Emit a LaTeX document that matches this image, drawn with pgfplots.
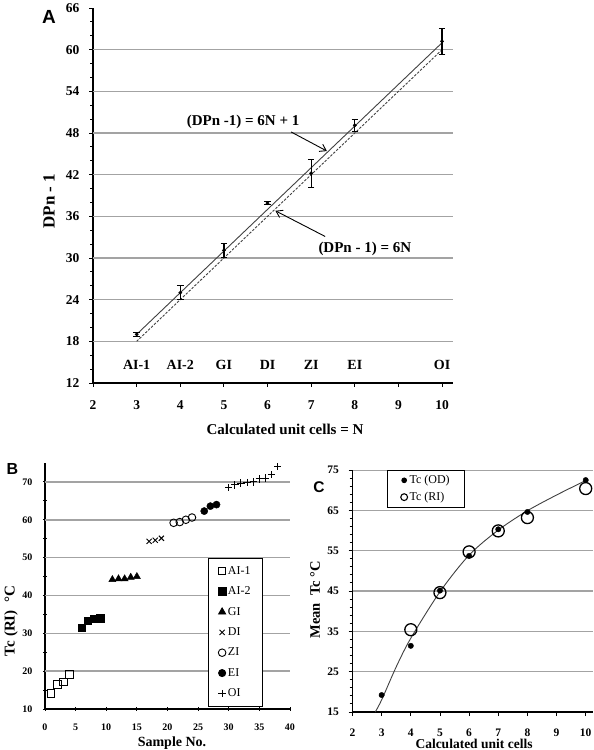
\documentclass[border=0pt]{standalone}
\usepackage{pgfplots}
\pgfplotsset{compat=1.18}
\usepackage{fontspec}
\setmainfont{Liberation Serif}
\newfontfamily\arialfont{Liberation Sans}
\usetikzlibrary{arrows.meta}
\newcommand{\fs}[1]{\fontsize{#1}{#1}\selectfont}
\colorlet{gridc}{black!36}
\begin{document}
\begin{tikzpicture}[x=1pt,y=1pt]
\useasboundingbox (0,0) rectangle (594,750);
\pgfplotsset{
  myax/.style={
    scale only axis,
    anchor=south west,
    axis x line*=bottom, axis y line*=left,
    axis line style={black, line width=1.3pt},
    tick style={black, line width=0.9pt},
    tick align=outside,
    major tick length=4pt, minor tick length=3pt,
    /pgf/number format/assume math mode=true,
    legend image code/.code={\draw[#1] plot coordinates {(0pt,0pt)};},
  }
}
% ---------------- Panel A ----------------
\begin{axis}[myax, at={(93pt,367pt)}, width=360pt, height=375pt,
  xmin=2, xmax=10.25, ymin=12, ymax=66,
  xtick={2,...,10}, ytick={12,18,...,66}, minor y tick num=2,
  tick label style={font=\bfseries\fs{13.5}},
  xticklabel style={yshift=-10pt}, yticklabel style={xshift=-6pt},
]
\pgfplotsinvokeforeach{18,24,30,36,42,48,54,60}{
  \draw[gridc, line width=1.5pt] (axis cs:2,#1) -- (axis cs:10.25,#1);
}
\addplot[black!75, line width=0.9pt] coordinates {(3,19) (10,61)};
\addplot[black!75, line width=0.9pt, dash pattern=on 2.5pt off 1.5pt] coordinates {(3,18) (10,60)};
\addplot[only marks, mark=*, mark size=1.7pt, black,
  error bars/.cd, y dir=both, y explicit,
  error bar style={line width=1.2pt, black},
  error mark options={black, rotate=90, mark size=3.3pt, line width=1.2pt}]
  coordinates {
  (3,19.0) +- (0,0.25)
  (4,25.0) +- (0,1.0)
  (5,31.1) +- (0,1.0)
  (6,37.9) +- (0,0.25)
  (7,42.2) +- (0,2.0)
  (8,49.1) +- (0,0.9)
  (10,61.2) +- (0,1.9)
  };
\node[font=\bfseries\fs{14}] at (axis cs:3,14.6) {AI-1};
\node[font=\bfseries\fs{14}] at (axis cs:4,14.6) {AI-2};
\node[font=\bfseries\fs{14}] at (axis cs:5,14.6) {GI};
\node[font=\bfseries\fs{14}] at (axis cs:6,14.6) {DI};
\node[font=\bfseries\fs{14}] at (axis cs:7,14.6) {ZI};
\node[font=\bfseries\fs{14}] at (axis cs:8,14.6) {EI};
\node[font=\bfseries\fs{14}] at (axis cs:10,14.6) {OI};
\node[font=\bfseries\fs{15}] at (axis cs:5.44,49.6) {(DPn -1) = 6N + 1};
\draw[-{Straight Barb[length=6pt,width=8pt]}, line width=0.9pt] (axis cs:6.54,48.15) -- (axis cs:7.36,45.4);
\node[font=\bfseries\fs{15}] at (axis cs:8.23,31.3) {(DPn - 1) = 6N};
\draw[-{Straight Barb[length=6pt,width=8pt]}, line width=0.9pt] (axis cs:7.32,33.1) -- (axis cs:6.18,36.8);
\end{axis}
\node[font=\arialfont\bfseries\fs{19}] at (49,733) {A};
\node[font=\bfseries\fs{17}, rotate=90] at (49,549) {DPn - 1};
\node[font=\bfseries\fs{15}] at (285,321) {Calculated unit cells = N};
% ---------------- Panel B ----------------
\begin{axis}[myax, at={(45pt,41pt)}, width=245pt, height=246pt,
  xmin=0, xmax=40, ymin=10, ymax=75,
  xtick={0,5,...,40}, ytick={10,20,...,70}, minor y tick num=1,
  tick align=center,
  tick label style={font=\bfseries\fs{10}},
  xticklabel style={yshift=-9pt}, yticklabel style={xshift=-7pt},
  legend style={at={(0.665,0.614)}, anchor=north west, draw=black, line width=0.8pt,
    font=\fs{12}, row sep=7pt, inner xsep=10pt, inner ysep=6pt},
  legend cell align=left,
]
\pgfplotsinvokeforeach{20,30,40,50,60,70}{
  \draw[gridc, line width=1.5pt] (axis cs:0,#1) -- (axis cs:40,#1);
}
\addplot[only marks, mark=square, mark size=3.8pt, black, line width=0.9pt, mark options={fill=white}]
  coordinates {(1,14.1) (2,16.5) (3,17.2) (4,19.1)};
\addlegendentry{AI-1}
\addplot[only marks, mark=square*, mark size=3.8pt, black]
  coordinates {(6,31.5) (7,33.3) (8,33.9) (9,34.0)};
\addlegendentry{AI-2}
\addplot[only marks, mark=triangle*, mark size=4.1pt, black]
  coordinates {(11,44.2) (12,44.4) (13,44.4) (14,44.8) (15,45.0)};
\addlegendentry{GI}
\addplot[only marks, mark=x, mark size=3.6pt, black, line width=1pt]
  coordinates {(17,54.3) (18,54.6) (19,55.1)};
\addlegendentry{DI}
\addplot[only marks, mark=o, mark size=3.8pt, black, line width=0.9pt, mark options={fill=white}]
  coordinates {(21,59.2) (22,59.4) (23,60.0) (24,60.6)};
\addlegendentry{ZI}
\addplot[only marks, mark=*, mark size=3.6pt, black]
  coordinates {(26,62.3) (27,63.6) (28,64.0)};
\addlegendentry{EI}
\addplot[only marks, mark=+, mark size=3.7pt, black, line width=1pt]
  coordinates {(30,68.5) (31,69.2) (32,69.7) (33,69.8) (34,70.0) (35,70.8) (36,71.0) (37,71.9) (38,74.0)};
\addlegendentry{OI}
\end{axis}
\node[font=\arialfont\bfseries\fs{16}] at (12.5,281) {B};
\node[font=\bfseries\fs{15}, rotate=90] at (11,129) {Tc (RI)\ \ °C};
\node[font=\bfseries\fs{14}] at (172,7) {Sample No.};
% ---------------- Panel C ----------------
\begin{axis}[myax, at={(352.5pt,38pt)}, width=240.5pt, height=242pt,
  xmin=2, xmax=10.25, ymin=15, ymax=75,
  xtick={2,...,10}, ytick={15,25,...,75}, minor y tick num=4,
  tick label style={font=\bfseries\fs{11.5}},
  xticklabel style={yshift=-9pt}, yticklabel style={xshift=-6pt},
  legend style={at={(0.145,1)}, anchor=north west, draw=black, line width=0.8pt,
    font=\fs{12}, row sep=3pt, inner xsep=13pt, inner ysep=3pt},
  legend cell align=left,
]
\pgfplotsinvokeforeach{25,35,45,55,65,75}{
  \draw[gridc, line width=1.5pt] (axis cs:2,#1) -- (axis cs:10.25,#1);
}
\addlegendimage{only marks, mark=*, mark size=2.4pt, black}
\addlegendentry{Tc (OD)}
\addlegendimage{only marks, mark=o, mark size=3.4pt, black, line width=1.1pt}
\addlegendentry{Tc (RI)}
\addplot[smooth, black!75, line width=0.9pt, forget plot]
  coordinates {(2.78,15) (3,18) (3.5,26.2) (4,33.3) (5,44.8) (6,53.9) (7,60.1) (8,64.9) (9,68.8) (10,72.4)};
\addplot[only marks, mark=o, mark size=6pt, black, line width=1.3pt, mark options={fill=white}, forget plot]
  coordinates {(4,35.4) (5,44.6) (6,54.7) (7,59.9) (8,63.2) (10,70.4)};
\addplot[only marks, mark=*, mark size=2.7pt, black, forget plot]
  coordinates {(3,19.2) (4,31.4) (5,45.1) (6,53.7) (7,60.3) (8,64.6) (10,72.5)};
\end{axis}
\node[font=\arialfont\bfseries\fs{15.5}] at (319,263) {C};
\node[font=\bfseries\fs{14.5}, rotate=90] at (315,150) {Mean\ \ Tc °C};
\node[font=\bfseries\fs{13.5}] at (474,6) {Calculated unit cells};
\end{tikzpicture}
\end{document}
